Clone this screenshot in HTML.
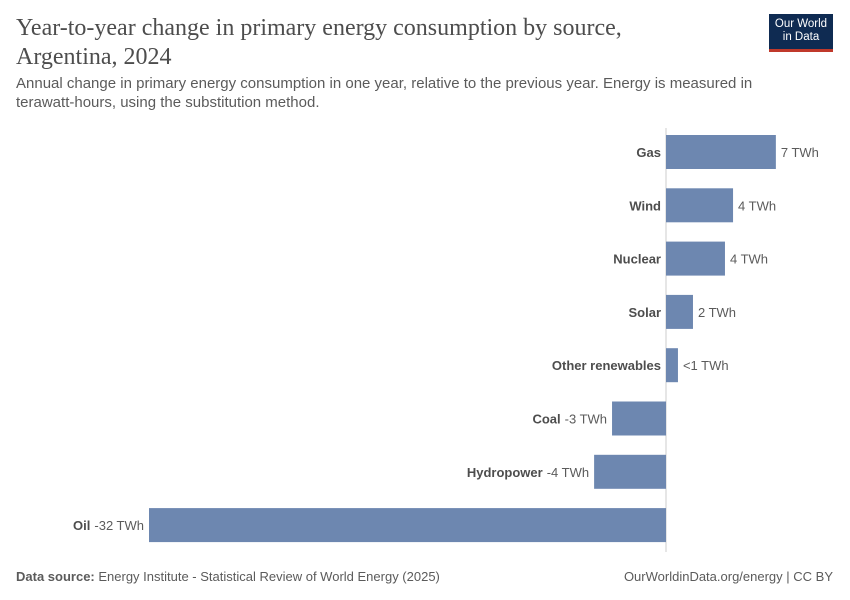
<!DOCTYPE html>
<html><head><meta charset="utf-8"><style>
body{margin:0;width:850px;height:600px;background:#fff;font-family:"Liberation Sans",sans-serif;position:relative;overflow:hidden}
.t{position:absolute;left:16px;top:14px;font-family:"Liberation Serif",serif;font-size:24px;line-height:29px;color:#4d4d4d;width:700px}
.s{position:absolute;left:16px;top:74px;font-size:15px;line-height:19px;color:#5b5b5b;width:740px}
.logo{position:absolute;left:769px;top:14px;width:64px;height:38px;background:#0f2b52;color:#fff;font-size:11.5px;line-height:13px;text-align:center;padding-top:4px;box-sizing:border-box;border-bottom:3px solid #c0392b}
.f{position:absolute;top:569px;font-size:13px;color:#5b5b5b}
</style></head><body>
<div class="t">Year-to-year change in primary energy consumption by source, Argentina, 2024</div>
<div class="s">Annual change in primary energy consumption in one year, relative to the previous year. Energy is measured in terawatt-hours, using the substitution method.</div>
<div class="logo">Our World<br>in Data</div>
<svg id="c" width="850" height="600" style="position:absolute;left:0;top:0"></svg>
<div class="f" style="left:16px"><b>Data source:</b> Energy Institute - Statistical Review of World Energy (2025)</div>
<div class="f" style="right:17px">OurWorldinData.org/energy | CC BY</div>
<script>
const categories=["Gas","Wind","Nuclear","Solar","Other renewables","Coal","Hydropower","Oil"];
const values=[6.8,4.15,3.65,1.67,0.74,-3.34,-4.45,-32];
const labels=["7 TWh","4 TWh","4 TWh","2 TWh","<1 TWh","-3 TWh","-4 TWh","-32 TWh"];
const svg=document.getElementById('c');const NS="http://www.w3.org/2000/svg";
const x0=666,scale=517/32;const x=v=>x0+v*scale;
const y=i=>135+i*53.3;const bh=34;
function mk(t,a){const e=document.createElementNS(NS,t);for(const k in a)e.setAttribute(k,a[k]);svg.appendChild(e);return e;}
const ax=mk('line',{x1:x0,x2:x0,y1:128,y2:552,stroke:'#ccc','stroke-width':1});


categories.forEach((c,i)=>{const v=values[i];const xa=Math.min(x(0),x(v)),w=Math.abs(x(v)-x(0));
const r=mk('rect',{x:xa,y:y(i),width:w,height:bh,fill:'#6d87b0'});


const cy=y(i)+bh/2+5;
if(v>=0){
const n=mk('text',{x:x0-5,y:cy,'text-anchor':'end','font-size':13,'font-weight':'bold',fill:'#4d4d4d'});n.textContent=c;


const l=mk('text',{x:x(v)+5,y:cy,'font-size':13,fill:'#5b5b5b'});l.textContent=labels[i];


}else{
const l=mk('text',{x:x(v)-5,y:cy,'text-anchor':'end','font-size':13,fill:'#5b5b5b'});l.textContent=labels[i];


const lw=l.getComputedTextLength();
const n=mk('text',{x:x(v)-9-lw,y:cy,'text-anchor':'end','font-size':13,'font-weight':'bold',fill:'#4d4d4d'});n.textContent=c;


}});
</script>
</body></html>
